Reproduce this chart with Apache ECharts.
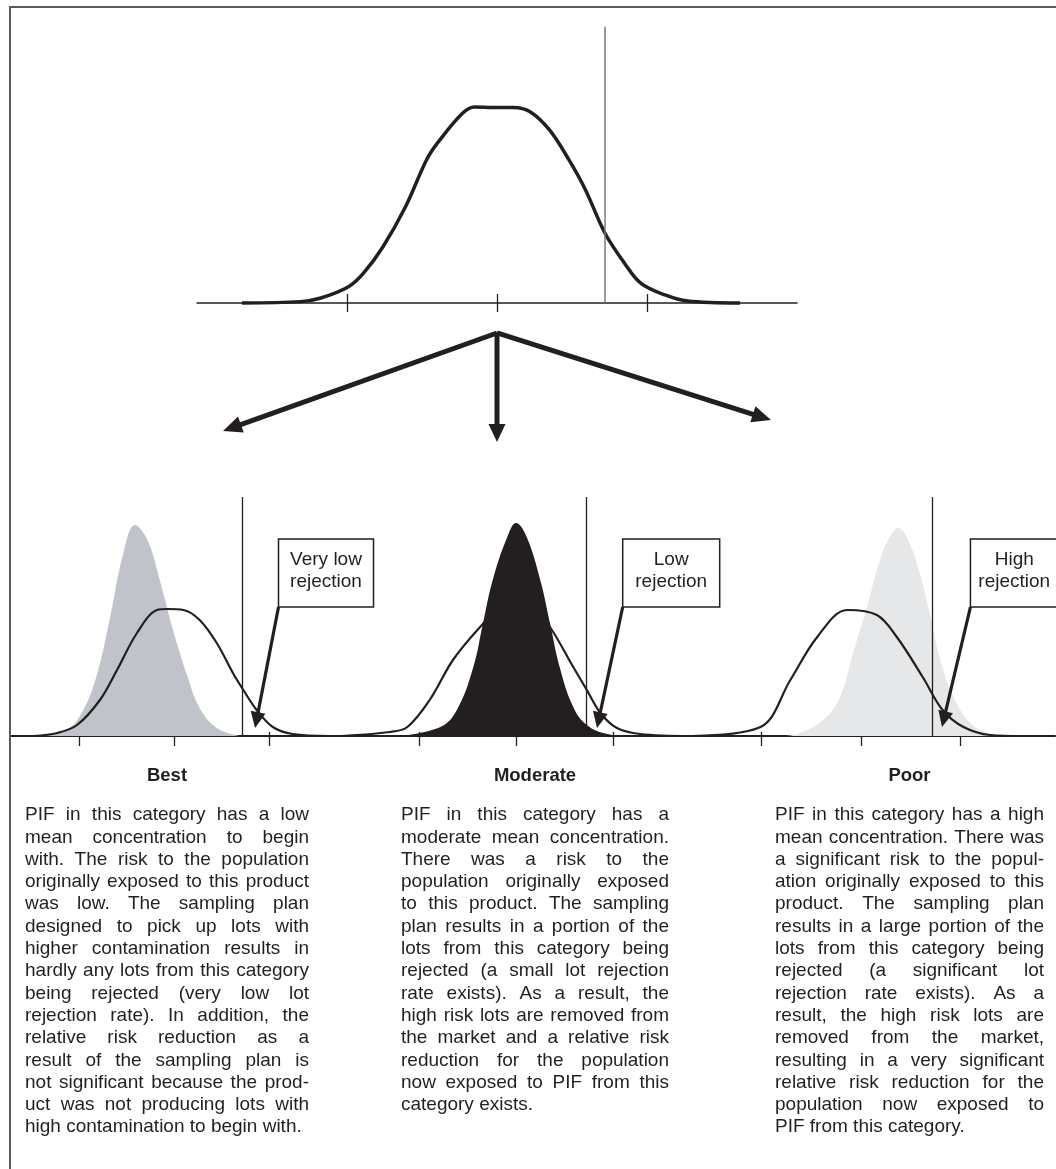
<!DOCTYPE html>
<html><head><meta charset="utf-8">
<script src="https://cdn.jsdelivr.net/npm/echarts@6/dist/echarts.min.js"></script>
<style>html,body{margin:0;padding:0;background:#fff}#c{width:1056px;height:1169px}</style>
</head><body><div id="c"></div>
<script>
// ---------------- DATA ----------------
// x in units of the tick spacing (ticks at -1, 0, 1), y = relative density
const tickValues = [-1, 0, 1];
const threshold = 0.72;                       // rejection limit (vertical line)

// Top: distribution of lot concentrations before sampling
const topX = [-1.70,-1.31,-1.18,-0.99,-0.89,-0.76,-0.61,-0.47,-0.39,-0.23,-0.15,-0.02,0.11,0.22,0.35,0.48,0.59,0.72,0.85,0.96,1.12,1.27,1.62];
const topY = [0,0.007,0.024,0.083,0.152,0.287,0.491,0.730,0.823,0.968,1.0,0.998,0.998,0.976,0.883,0.730,0.577,0.356,0.203,0.100,0.041,0.010,0];

// Best panel
const bestCurveX = [-1.48,-1.23,-1.02,-0.78,-0.60,-0.39,-0.18,-0.07,0.10,0.27,0.45,0.62,0.73,0.87,1.04,1.25,1.64];
const bestCurveY = [0,0.03,0.11,0.36,0.66,1.03,1.26,1.27,1.26,1.16,0.93,0.63,0.46,0.26,0.09,0.02,0];
const bestLotsX = [-1.41,-1.13,-0.96,-0.81,-0.67,-0.54,-0.41,-0.28,-0.15,-0.01,0.14,0.27,0.45,0.69];
const bestLotsY = [0,0.06,0.25,0.62,1.20,1.80,2.11,1.96,1.56,1.06,0.60,0.28,0.08,0];

// Moderate panel
const modCurveX = [-1.80,-1.30,-1.12,-0.89,-0.65,-0.37,-0.18,-0.05,0.10,0.22,0.35,0.59,0.73,0.87,1.04,1.28,1.80];
const modCurveY = [0,0.04,0.09,0.36,0.76,1.09,1.26,1.27,1.27,1.22,1.09,0.69,0.46,0.23,0.08,0.02,0];
const modLotsX = [-1.20,-0.78,-0.61,-0.44,-0.34,-0.24,-0.09,0,0.11,0.25,0.35,0.45,0.59,0.73,0.94,1.18];
const modLotsY = [0,0.09,0.26,0.69,1.13,1.56,1.99,2.13,1.99,1.56,1.13,0.69,0.29,0.11,0.02,0];

// Poor panel
const poorCurveX = [-1.70,-1.01,-0.71,-0.44,-0.14,0.16,0.36,0.62,0.82,1.03,1.30,1.63];
const poorCurveY = [0,0.09,0.56,0.99,1.26,1.21,0.99,0.59,0.26,0.09,0.01,0];
const poorLotsX = [-0.75,-0.61,-0.38,-0.21,-0.08,0.06,0.19,0.29,0.37,0.46,0.59,0.69,0.79,0.93,1.10,1.30,1.45];
const poorLotsY = [0,0.03,0.16,0.39,0.83,1.29,1.76,1.99,2.08,1.99,1.63,1.23,0.79,0.39,0.13,0.02,0];

const categories = ['Best', 'Moderate', 'Poor'];
const rejectionLabels = [['Very low', 'rejection'], ['Low', 'rejection'], ['High', 'rejection']];
// annotation arrow tip (data coords of each panel)
const rejectionTipX = [0.853, 0.835, 0.814];
const rejectionTipY = [0.08, 0.08, 0.09];

const paragraphs = [
  ['PIF in this category has a low','mean concentration to begin','with. The risk to the population','originally exposed to this product','was low. The sampling plan','designed to pick up lots with','higher contamination results in','hardly any lots from this category','being rejected (very low lot','rejection rate). In addition, the','relative risk reduction as a','result of the sampling plan is','not significant because the prod-','uct was not producing lots with','high contamination to begin with.'],
  ['PIF in this category has a','moderate mean concentration.','There was a risk to the','population originally exposed','to this product. The sampling','plan results in a portion of the','lots from this category being','rejected (a small lot rejection','rate exists). As a result, the','high risk lots are removed from','the market and a relative risk','reduction for the population','now exposed to PIF from this','category exists.'],
  ['PIF in this category has a high','mean concentration. There was','a significant risk to the popul-','ation originally exposed to this','product. The sampling plan','results in a large portion of the','lots from this category being','rejected (a significant lot','rejection rate exists). As a','result, the high risk lots are','removed from the market,','resulting in a very significant','relative risk reduction for the','population now exposed to','PIF from this category.']
];

// ---------------- STYLE / LAYOUT ----------------
const INK = '#231f20';
const FONT_FAMILY = '"Liberation Sans", Arial, sans-serif';
const lotColors = ['#c0c4ca', '#231f20', '#e6e7e9'];
const panelLayout = [   // pixel layout of each lower panel
  {min: -1.72, max: 1.75, unit: 95,   centre: 174},
  {min: -1.80, max: 1.80, unit: 97,   centre: 516},
  {min: -1.70, max: 1.95, unit: 99.5, centre: 861}
];
const panelTop = 497, panelAxisY = 736, panelUnitY = 100;
const topAxisY = 303, topUnitY = 196, topYMax = 1.41;

const zip = (xs, ys) => xs.map((x, i) => [x, ys[i]]);

const chart = echarts.init(document.getElementById('c'), null, {renderer: 'canvas'});

const grids = [{left: 197, width: 600, top: topAxisY - topYMax * topUnitY, height: topYMax * topUnitY, containLabel: false, outerBoundsMode: 'none'}];
panelLayout.forEach(p => grids.push({
  left: p.centre + p.min * p.unit, width: (p.max - p.min) * p.unit,
  top: panelTop, height: panelAxisY - panelTop, containLabel: false, outerBoundsMode: 'none'
}));

const xAxes = [], yAxes = [];
function addAxes(gi, min, max, lineW, outLen, inLen) {
  xAxes.push({gridIndex: gi, type: 'value', min, max, position: 'bottom',
    axisLine: {show: true, onZero: false, lineStyle: {color: INK, width: lineW}},
    axisTick: {show: true, length: outLen, inside: false, customValues: tickValues, lineStyle: {color: INK, width: 1.3}},
    axisLabel: {show: false}, splitLine: {show: false}});
  xAxes.push({gridIndex: gi, type: 'value', min, max, position: 'bottom',
    axisLine: {show: false},
    axisTick: {show: true, length: inLen, inside: true, customValues: tickValues, lineStyle: {color: INK, width: 1.3}},
    axisLabel: {show: false}, splitLine: {show: false}});
}
addAxes(0, -2, 2, 1.5, 9, 9);
yAxes.push({gridIndex: 0, type: 'value', min: 0, max: topYMax, show: false});
panelLayout.forEach((p, i) => {
  addAxes(i + 1, p.min, p.max, 2, 10, 4);
  yAxes.push({gridIndex: i + 1, type: 'value', min: 0, max: (panelAxisY - panelTop) / panelUnitY, show: false});
});

const vline = (color, width) => ({silent: true, symbol: 'none', label: {show: false},
  lineStyle: {color, width, type: 'solid'}, emphasis: {disabled: true}, data: [{xAxis: threshold}]});

const series = [{
  type: 'line', xAxisIndex: 0, yAxisIndex: 0, data: zip(topX, topY), smooth: 0.35, symbol: 'none', clip: false,
  lineStyle: {color: INK, width: 3.5}, z: 3, markLine: vline('#7a7a7a', 1.5)
}];
const curves = [[bestCurveX, bestCurveY], [modCurveX, modCurveY], [poorCurveX, poorCurveY]];
const lots = [[bestLotsX, bestLotsY], [modLotsX, modLotsY], [poorLotsX, poorLotsY]];
[0, 1, 2].forEach(i => {
  series.push({type: 'line', xAxisIndex: 2 + 2 * i, yAxisIndex: i + 1, data: zip(lots[i][0], lots[i][1]),
    smooth: 0.4, symbol: 'none', lineStyle: {width: 0}, areaStyle: {color: lotColors[i], opacity: 1}, z: i === 1 ? 4 : 1});
  series.push({type: 'line', xAxisIndex: 2 + 2 * i, yAxisIndex: i + 1, data: zip(curves[i][0], curves[i][1]),
    smooth: 0.35, symbol: 'none', clip: false, lineStyle: {color: INK, width: 2.2}, z: 3, markLine: vline(INK, 1.3)});
});

chart.setOption({animation: false, grid: grids, xAxis: xAxes, yAxis: yAxes, series});

// ---------------- ANNOTATIONS ----------------
const graphics = [];
const ZA = 100;
function arrow(x1, y1, x2, y2, lw, headLen, headHalf) {
  const dx = x2 - x1, dy = y2 - y1, L = Math.hypot(dx, dy), ux = dx / L, uy = dy / L;
  const bx = x2 - ux * headLen, by = y2 - uy * headLen;
  graphics.push({type: 'line', silent: true, z: ZA, shape: {x1, y1, x2: x2 - ux * headLen * 0.6, y2: y2 - uy * headLen * 0.6},
    style: {stroke: INK, lineWidth: lw, lineCap: 'butt'}});
  graphics.push({type: 'polygon', silent: true, z: ZA, shape: {points: [[x2, y2], [bx - uy * headHalf, by + ux * headHalf], [bx + uy * headHalf, by - ux * headHalf]]},
    style: {fill: INK}});
}
// frame
graphics.push({type: 'line', silent: true, z: ZA, shape: {x1: 9, y1: 7, x2: 1056, y2: 7}, style: {stroke: '#5a5a5a', lineWidth: 2}});
graphics.push({type: 'line', silent: true, z: ZA, shape: {x1: 10, y1: 6, x2: 10, y2: 1169}, style: {stroke: '#5a5a5a', lineWidth: 2}});

// arrows from the top distribution to the three panels
const origin = chart.convertToPixel({gridIndex: 0}, [0, -0.153]);
arrow(origin[0], origin[1], 223, 431, 5, 19, 8.5);
arrow(origin[0], origin[1], origin[0], 442, 5, 18, 8.5);
arrow(origin[0], origin[1], 771, 420, 5, 19, 8.5);

const font = '19px ' + FONT_FAMILY;
const bold = 'bold 18.5px ' + FONT_FAMILY;
[0, 1, 2].forEach(i => {
  const boxTL = chart.convertToPixel({gridIndex: i + 1}, [1.1, 1.97]);
  const boxBR = chart.convertToPixel({gridIndex: i + 1}, [2.1, 1.29]);
  const w = Math.min(boxBR[0], 1058) - boxTL[0], h = boxBR[1] - boxTL[1];
  graphics.push({type: 'rect', silent: true, z: ZA, shape: {x: boxTL[0], y: boxTL[1], width: w, height: h},
    style: {fill: '#fff', stroke: INK, lineWidth: 1.5}});
  rejectionLabels[i].forEach((t, k) => graphics.push({type: 'text', silent: true, z: ZA + 1,
    style: {text: t, x: boxTL[0] + w / 2, y: boxTL[1] + 21 + k * 22, font, fill: INK, align: 'center', verticalAlign: 'middle'}}));
  const tip = chart.convertToPixel({gridIndex: i + 1}, [rejectionTipX[i], rejectionTipY[i]]);
  arrow(boxTL[0], boxBR[1], tip[0], tip[1], 3.2, 16, 7.5);
});

// text columns
const cols = [{left: 25, width: 284}, {left: 401, width: 268}, {left: 775, width: 269}];
const ctx = document.createElement('canvas').getContext('2d');
function measure(t, f) { ctx.font = f; return ctx.measureText(t).width; }
const firstLineY = 815, lineH = 22.3, titleY = 776;
cols.forEach((c, ci) => {
  graphics.push({type: 'text', silent: true, z: ZA, style: {text: categories[ci], x: c.left + c.width / 2, y: titleY,
    font: bold, fill: INK, align: 'center', verticalAlign: 'middle'}});
  const lines = paragraphs[ci];
  lines.forEach((ln, li) => {
    const y = firstLineY + li * lineH;
    const words = ln.split(' ');
    if (li === lines.length - 1 || words.length === 1) {
      graphics.push({type: 'text', silent: true, z: ZA, style: {text: ln, x: c.left, y, font, fill: INK, verticalAlign: 'middle'}});
      return;
    }
    const ws = words.map(wd => measure(wd, font));
    const gap = (c.width - ws.reduce((a, b) => a + b, 0)) / (words.length - 1);
    let x = c.left;
    words.forEach((wd, j) => {
      graphics.push({type: 'text', silent: true, z: ZA, style: {text: wd, x, y, font, fill: INK, verticalAlign: 'middle'}});
      x += ws[j] + gap;
    });
  });
});

chart.setOption({graphic: graphics});
</script></body></html>
